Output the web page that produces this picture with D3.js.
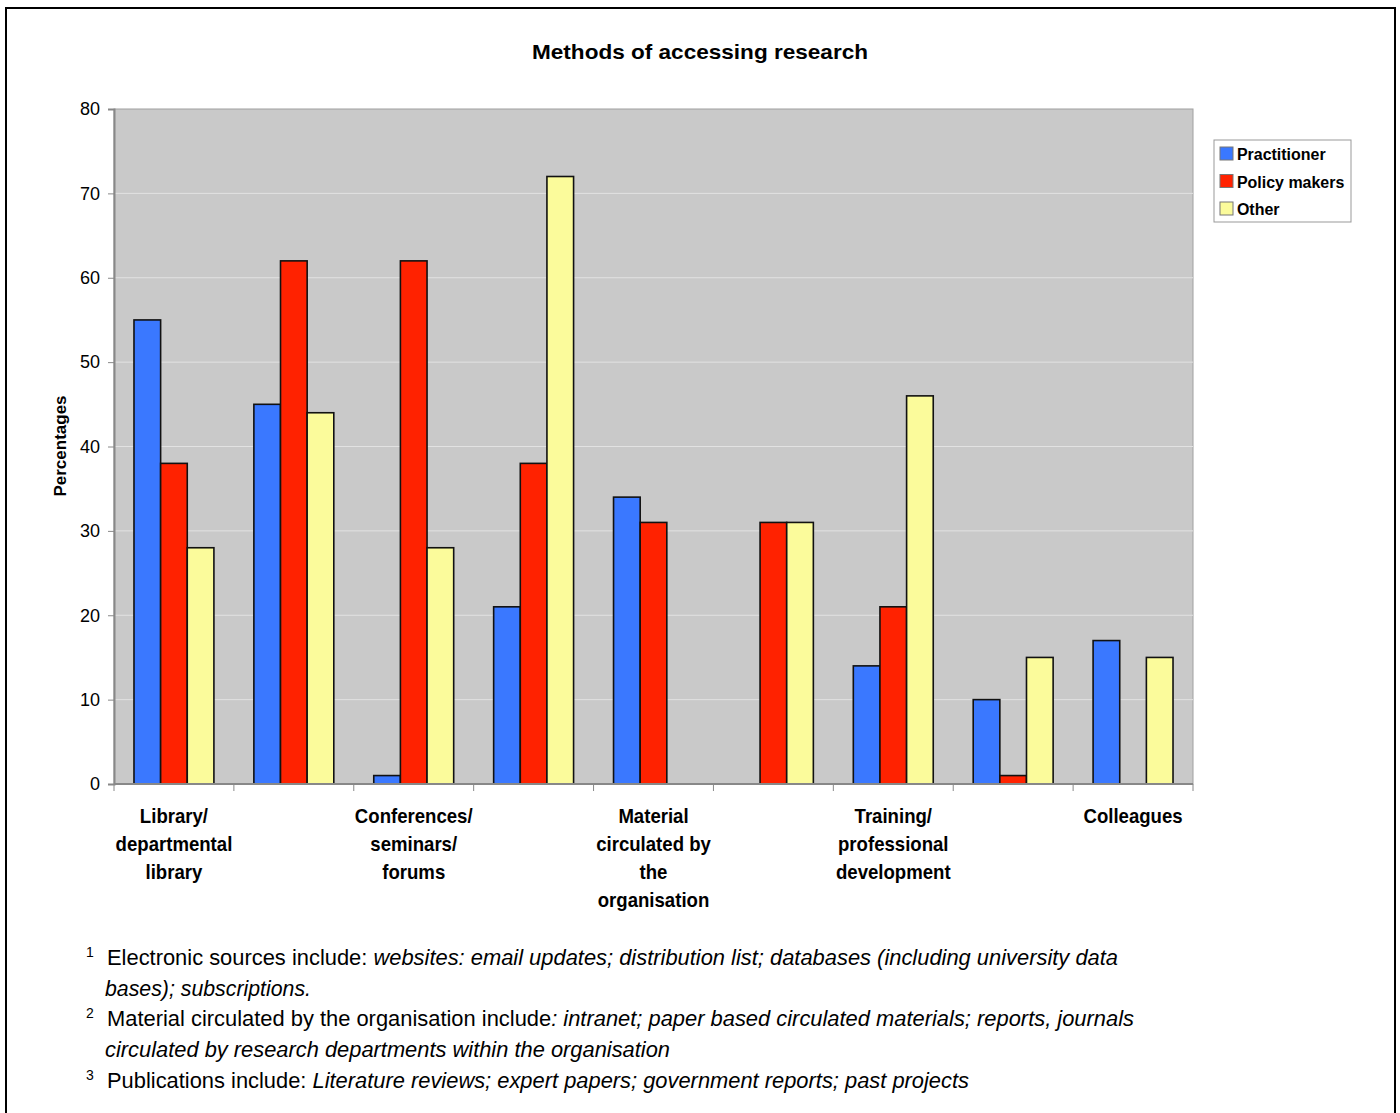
<!DOCTYPE html>
<html>
<head>
<meta charset="utf-8">
<script src="https://cdn.jsdelivr.net/npm/d3@7"></script>
<style>
  body { margin: 0; background: #fff; }
  text { font-family: "Liberation Sans", Arial, sans-serif; }
</style>
</head>
<body>
<div id="chart"></div>
<script>
// categories (only every other one is labelled in the original)
var categories = ["c1", "c2", "c3", "c4", "c5", "c6", "c7", "c8", "c9"];
var tickLabels = [
  ["Library/", "departmental", "library"],
  [],
  ["Conferences/", "seminars/", "forums"],
  [],
  ["Material", "circulated by", "the", "organisation"],
  [],
  ["Training/", "professional", "development"],
  [],
  ["Colleagues"]
];
var seriesNames = ["Practitioner", "Policy makers", "Other"];
var practitioner = [55, 45, 1, 21, 34, null, 14, 10, 17];
var policyMakers = [38, 62, 62, 38, 31, 31, 21, 1, null];
var other = [28, 44, 28, 72, null, 31, 46, 15, 15];
var yTicks = [0, 10, 20, 30, 40, 50, 60, 70, 80];
var colors = ["#3a78ff", "#ff2200", "#fbfb9b"];

var footnotes = [
  {sup: "1", x: 107, y: 965, parts: [["Electronic sources include: ", false], ["websites: email updates; distribution list; databases (including university data", true]], w: 1011},
  {sup: null, x: 105, y: 996, parts: [["bases); subscriptions.", true]], w: 206},
  {sup: "2", x: 107, y: 1026, parts: [["Material circulated by the organisation include", false], [": intranet; paper based circulated materials; reports, journals", true]], w: 1027},
  {sup: null, x: 105, y: 1057, parts: [["circulated by research departments within the organisation", true]], w: 565},
  {sup: "3", x: 107, y: 1088, parts: [["Publications include: ", false], ["Literature reviews; expert papers; government reports; past projects", true]], w: 862}
];

var draw = function() {
  var series = [practitioner, policyMakers, other];

  var svg = d3.select("#chart").append("svg")
    .attr("width", 1400)
    .attr("height", 1113);

  // outer frame
  svg.append("rect")
    .attr("x", 6).attr("y", 8)
    .attr("width", 1389).attr("height", 1120)
    .attr("fill", "none")
    .attr("stroke", "#000")
    .attr("stroke-width", 2);

  var pLeft = 114, pRight = 1193, pTop = 109, pBottom = 784;

  var x = d3.scaleBand()
    .domain(categories)
    .range([pLeft, pRight]);

  var x1 = d3.scaleBand()
    .domain(d3.range(3))
    .range([0, x.bandwidth()])
    .paddingOuter(0.75)
    .paddingInner(0);

  var y = d3.scaleLinear()
    .domain([0, 80])
    .range([pBottom, pTop]);

  // plot background
  svg.append("rect")
    .attr("x", pLeft).attr("y", pTop)
    .attr("width", pRight - pLeft).attr("height", pBottom - pTop)
    .attr("fill", "#c9c9c9")
    .attr("stroke", "#a0a0a0")
    .attr("stroke-width", 1);

  // gridlines
  svg.append("g").selectAll("line")
    .data(yTicks.filter(function(d) { return d > 0 && d < 80; }))
    .enter().append("line")
    .attr("x1", pLeft).attr("x2", pRight)
    .attr("y1", function(d) { return y(d); })
    .attr("y2", function(d) { return y(d); })
    .attr("stroke", "#e2e2e2")
    .attr("stroke-width", 1);

  // bars
  series.forEach(function(vals, s) {
    svg.append("g").selectAll("rect")
      .data(vals.map(function(v, i) { return {cat: categories[i], v: v}; })
        .filter(function(d) { return d.v !== null; }))
      .enter().append("rect")
      .attr("x", function(d) { return x(d.cat) + x1(s); })
      .attr("y", function(d) { return y(d.v); })
      .attr("width", x1.bandwidth())
      .attr("height", function(d) { return pBottom - y(d.v); })
      .attr("fill", colors[s])
      .attr("stroke", "#111")
      .attr("stroke-width", 1.6);
  });

  // y axis
  var yAxis = svg.append("g")
    .attr("transform", "translate(" + pLeft + ",0)")
    .call(d3.axisLeft(y).tickValues(yTicks).tickSize(6).tickPadding(8));
  yAxis.select(".domain").attr("stroke", "#888").attr("stroke-width", 2);
  yAxis.selectAll(".tick line").attr("stroke", "#888");
  yAxis.selectAll(".tick text")
    .attr("font-size", 18)
    .attr("fill", "#000")
    .attr("font-family", "Liberation Sans, Arial, sans-serif");

  // x axis line and ticks at category boundaries
  var xg = svg.append("g");
  xg.append("line")
    .attr("x1", pLeft).attr("x2", pRight)
    .attr("y1", pBottom).attr("y2", pBottom)
    .attr("stroke", "#888").attr("stroke-width", 2);
  xg.selectAll(".xt")
    .data(categories.concat(["end"]))
    .enter().append("line")
    .attr("x1", function(d, i) { return i < categories.length ? x(d) : pRight; })
    .attr("x2", function(d, i) { return i < categories.length ? x(d) : pRight; })
    .attr("y1", pBottom).attr("y2", pBottom + 7)
    .attr("stroke", "#888").attr("stroke-width", 1);

  // category labels
  var labels = svg.append("g").selectAll("g")
    .data(categories)
    .enter().append("g")
    .attr("transform", function(d) {
      return "translate(" + (x(d) + x.bandwidth() / 2) + ",823) scale(0.93,1)";
    });
  labels.each(function(d, i) {
    d3.select(this).selectAll("text")
      .data(tickLabels[i])
      .enter().append("text")
      .attr("y", function(t, j) { return j * 28; })
      .attr("text-anchor", "middle")
      .attr("font-size", 20)
      .attr("font-weight", "bold")
      .text(function(t) { return t; });
  });

  // y axis title
  svg.append("text")
    .attr("transform", "translate(66,446) rotate(-90)")
    .attr("text-anchor", "middle")
    .attr("font-size", 17)
    .attr("font-weight", "bold")
    .text("Percentages");

  // chart title
  svg.append("text")
    .attr("x", 700).attr("y", 59)
    .attr("text-anchor", "middle")
    .attr("font-size", 21)
    .attr("font-weight", "bold")
    .attr("textLength", 336)
    .attr("lengthAdjust", "spacingAndGlyphs")
    .text("Methods of accessing research");

  // legend
  var legend = svg.append("g");
  legend.append("rect")
    .attr("x", 1214).attr("y", 140)
    .attr("width", 137).attr("height", 82)
    .attr("fill", "#fff")
    .attr("stroke", "#999");
  var items = legend.selectAll(".item")
    .data(seriesNames)
    .enter().append("g")
    .attr("transform", function(d, i) { return "translate(1220," + (147 + i * 27.5) + ")"; });
  items.append("rect")
    .attr("width", 13).attr("height", 13)
    .attr("fill", function(d, i) { return colors[i]; })
    .attr("stroke", "#777");
  items.append("text")
    .attr("x", 18).attr("y", 13)
    .attr("font-size", 17)
    .attr("font-weight", "bold")
    .attr("transform", "scale(0.94,1)")
    .text(function(d) { return d; });

  // footnotes
  var notes = svg.append("g");
  footnotes.forEach(function(f) {
    if (f.sup) {
      notes.append("text")
        .attr("x", 86).attr("y", f.y - 8)
        .attr("font-size", 14)
        .text(f.sup);
    }
    var t = notes.append("text")
      .attr("x", f.x).attr("y", f.y)
      .attr("font-size", 22)
      .attr("textLength", f.w)
      .attr("lengthAdjust", "spacingAndGlyphs");
    f.parts.forEach(function(p) {
      t.append("tspan")
        .attr("font-style", p[1] ? "italic" : "normal")
        .text(p[0]);
    });
  });
};
draw();
</script>
</body>
</html>
